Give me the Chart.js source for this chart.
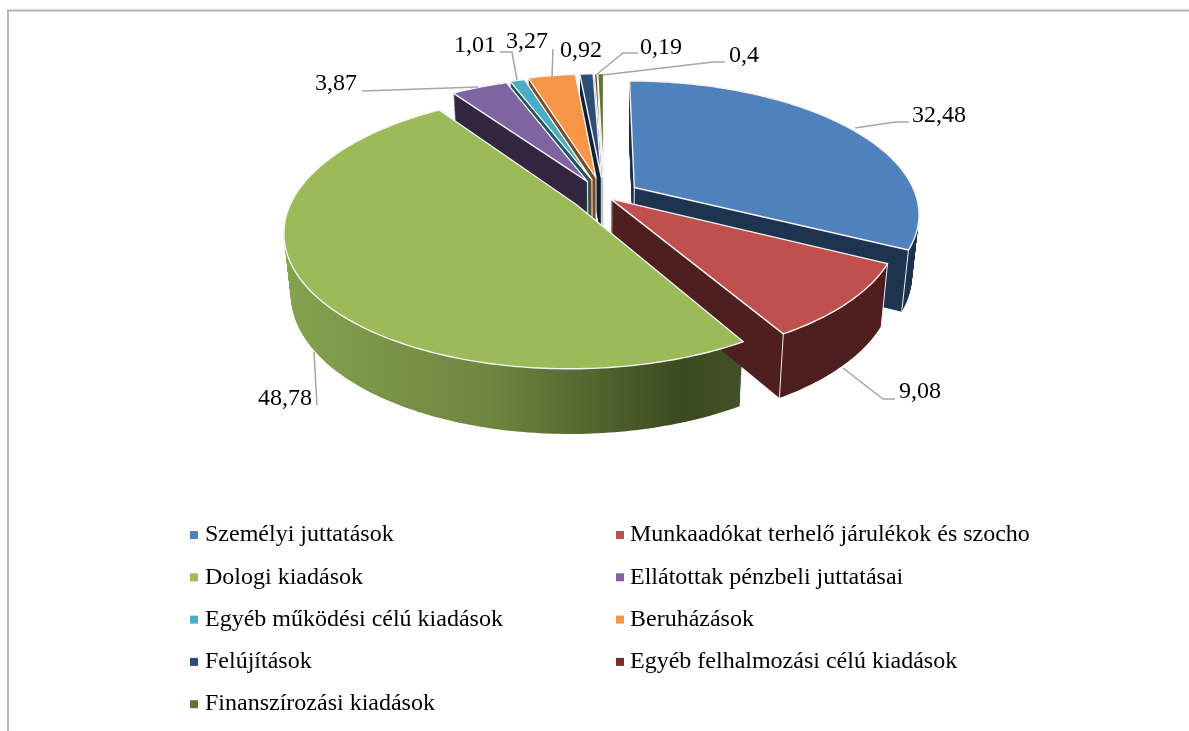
<!DOCTYPE html>
<html>
<head>
<meta charset="utf-8">
<style>
  html, body { margin: 0; padding: 0; background: #fff; }
  canvas { display: block; }
</style>
<script src="https://cdn.jsdelivr.net/npm/chart.js@4"></script>
</head>
<body>
<canvas id="grafico" width="1189" height="731"></canvas>
<script>
const categories = [
  'Személyi juttatások',
  'Munkaadókat terhelő járulékok és szocho',
  'Dologi kiadások',
  'Ellátottak pénzbeli juttatásai',
  'Egyéb működési célú kiadások',
  'Beruházások',
  'Felújítások',
  'Egyéb felhalmozási célú kiadások',
  'Finanszírozási kiadások',
];
const shares = [32.48, 9.08, 48.78, 3.87, 1.01, 3.27, 0.92, 0.19, 0.4];
const topColors = ['#4f81bd', '#c0504d', '#9bbb59', '#8064a2', '#4bacc6', '#f79646', '#2c4d75', '#772c2a', '#5f7530'];
const wallColors = ['#1e3450', '#4f1f1f', '#6b8340', '#33273f', '#1e5560', '#7a4a20', '#13233a', '#4f1f1f', '#3a4a20'];
const explode = [36, 9, 33, 36, 38, 42, 42, 42, 42];

// where each value label sits, and the leader line going to it
const labelSpots = [
  { x: 939, y: 116, line: [[855, 128], [895, 122], [909, 122]] },
  { x: 920, y: 392, line: [[843, 368], [883, 399], [895, 399]] },
  { x: 285, y: 399, line: [[314, 352], [317, 405]] },
  { x: 336, y: 84, line: [[362, 91], [478, 87]] },
  { x: 475, y: 46, line: [[500, 52], [512, 52], [517, 80]] },
  { x: 527, y: 42, line: [[553, 49], [552, 77]] },
  { x: 581, y: 51, line: [] },
  { x: 661, y: 48, line: [[597, 74], [623, 53], [638, 53]] },
  { x: 744, y: 56, line: [[603, 75], [713, 62], [725, 62]] },
];

const TILT = 0.46;
const PERSPECTIVE = 0.19;
const DEPTH = 60;
const FONT = '"Liberation Serif", serif';

function project(el, offset, angle, r) {
  const mid = (el.startAngle + el.endAngle) / 2;
  const u = r * Math.cos(angle) + offset * Math.cos(mid);
  const v = r * Math.sin(angle) + offset * Math.sin(mid);
  const w = 1 / (1 - (PERSPECTIVE * v) / el.outerRadius);
  return { x: el.x + u * w, y: el.y + v * w * TILT };
}

function slicePoints(el, offset) {
  const pts = [project(el, offset, el.startAngle, 0)];
  const steps = Math.max(2, Math.ceil((el.endAngle - el.startAngle) * 60));
  for (let i = 0; i <= steps; i++) {
    const a = el.startAngle + ((el.endAngle - el.startAngle) * i) / steps;
    pts.push(project(el, offset, a, el.outerRadius));
  }
  return pts;
}

// the lower rim of the pie: pulled in towards the middle and a bit taller at the front
function dropPoint(p, el, d) {
  const t = d / DEPTH;
  return {
    x: el.x + (p.x - el.x) * (1 - 0.022 * t),
    y: p.y + d + (p.y - el.y) * 0.03 * t,
  };
}

function tracePath(ctx, pts) {
  ctx.beginPath();
  pts.forEach((p, i) => (i ? ctx.lineTo(p.x, p.y) : ctx.moveTo(p.x, p.y)));
  ctx.closePath();
}

const pie3d = {
  id: 'pie3d',
  beforeDraw(chart) {
    const ctx = chart.ctx;
    ctx.save();
    ctx.strokeStyle = '#b4b4b4';
    ctx.lineWidth = 2;
    ctx.beginPath();
    ctx.moveTo(8, 731);
    ctx.lineTo(8, 10.5);
    ctx.lineTo(1189, 10.5);
    ctx.stroke();
    ctx.restore();
  },
  beforeDatasetsDraw(chart) {
    const ctx = chart.ctx;
    const arcs = chart.getDatasetMeta(0).data;
    const items = arcs.map((el, i) => ({ el, i, pts: slicePoints(el, explode[i]) }));

    const sideGradient = ctx.createLinearGradient(285, 0, 735, 0);
    sideGradient.addColorStop(0, '#84a250');
    sideGradient.addColorStop(0.45, '#6f8640');
    sideGradient.addColorStop(0.88, '#3b4a1f');
    sideGradient.addColorStop(1, '#434f26');

    // walls first, back slices before front ones
    const order = items.slice().sort((a, b) => {
      const ma = (a.el.startAngle + a.el.endAngle) / 2;
      const mb = (b.el.startAngle + b.el.endAngle) / 2;
      return Math.sin(ma) - Math.sin(mb);
    });
    ctx.save();
    order.forEach(({ el, i, pts }) => {
      ctx.fillStyle = i === 2 ? sideGradient : wallColors[i];
      for (let d = DEPTH; d >= 0; d--) {
        tracePath(ctx, pts.map((p) => dropPoint(p, el, d)));
        ctx.fill();
      }
      // white corner lines, only where the corner faces the viewer
      ctx.strokeStyle = '#f0f0f0';
      ctx.lineWidth = 1;
      const corners = [];
      const mid = (el.startAngle + el.endAngle) / 2;
      if (Math.sin(mid) < 0) corners.push(pts[0]);
      if (Math.sin(el.startAngle) > 0) corners.push(pts[1]);
      if (Math.sin(el.endAngle) > 0) corners.push(pts[pts.length - 1]);
      corners.forEach((p) => {
        const q = dropPoint(p, el, DEPTH);
        ctx.beginPath();
        ctx.moveTo(p.x, p.y);
        ctx.lineTo(q.x, q.y);
        ctx.stroke();
      });
    });

    // top faces
    ctx.lineJoin = 'round';
    items.forEach(({ i, pts }) => {
      tracePath(ctx, pts);
      ctx.fillStyle = topColors[i];
      ctx.fill();
      ctx.strokeStyle = '#f4f4f4';
      ctx.lineWidth = 1.4;
      ctx.stroke();
    });
    ctx.restore();
    return false;
  },
  afterDraw(chart) {
    const ctx = chart.ctx;
    ctx.save();

    // value labels
    ctx.strokeStyle = '#a6a6a6';
    ctx.lineWidth = 1.5;
    ctx.fillStyle = '#000000';
    ctx.font = '24px ' + FONT;
    ctx.textAlign = 'center';
    ctx.textBaseline = 'middle';
    shares.forEach((value, i) => {
      const spot = labelSpots[i];
      if (spot.line.length) {
        ctx.beginPath();
        spot.line.forEach(([x, y], k) => (k ? ctx.lineTo(x, y) : ctx.moveTo(x, y)));
        ctx.stroke();
      }
      ctx.fillText(String(value).replace('.', ','), spot.x, spot.y);
    });

    // legend, two columns filled row by row
    ctx.textAlign = 'left';
    categories.forEach((label, i) => {
      const col = i % 2;
      const row = Math.floor(i / 2);
      const x = col ? 616 : 190;
      const y = 535 + row * 42.3;
      ctx.fillStyle = topColors[i];
      ctx.fillRect(x, y - 4, 8, 8);
      ctx.fillStyle = '#000000';
      ctx.fillText(label, x + (col ? 14 : 15), y);
    });
    ctx.restore();
  },
};

new Chart(document.getElementById('grafico'), {
  type: 'pie',
  plugins: [pie3d],
  data: {
    labels: categories,
    datasets: [{ data: shares, backgroundColor: topColors, radius: 282, borderWidth: 0 }],
  },
  options: {
    responsive: false,
    animation: false,
    layout: { padding: { left: 19, bottom: 339 } },
    plugins: { legend: { display: false }, tooltip: { enabled: false } },
  },
});
</script>
</body>
</html>
